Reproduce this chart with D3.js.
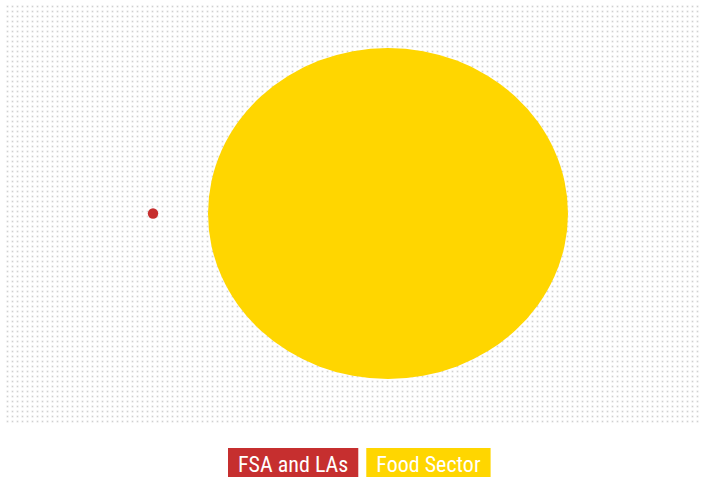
<!DOCTYPE html>
<html>
<head>
<meta charset="utf-8">
<script src="https://cdn.jsdelivr.net/npm/d3@7"></script>
<style>
  body { margin: 0; background: #fff; }
  text { font-family: "Liberation Sans Narrow", "Roboto Condensed", "Liberation Sans", sans-serif; }
</style>
</head>
<body>
<div id="wrapper"></div>
<script>
// data
const categories = ["FSA and LAs", "Food Sector"]
const values = [0.1, 120]
const colors = ["#c62f2f", "#ffd600"]

function drawBubbles() {
  const width = 703
  const height = 477
  const plot = { left: 5, top: 4, right: 701, bottom: 424 }

  const svg = d3.select("#wrapper")
    .append("svg")
      .attr("width", width)
      .attr("height", height)

  // dotted background
  const defs = svg.append("defs")
  const pat = defs.append("pattern")
      .attr("id", "dots")
      .attr("width", 5)
      .attr("height", 5)
      .attr("patternUnits", "userSpaceOnUse")
      .attr("x", plot.left)
      .attr("y", plot.top)
  pat.append("rect")
      .attr("x", 1.5).attr("y", 1.5)
      .attr("width", 2).attr("height", 2)
      .attr("fill", "#e4e4e4")
  pat.append("rect")
      .attr("x", 2).attr("y", 2)
      .attr("width", 1).attr("height", 1)
      .attr("fill", "#d0d0d0")

  svg.append("rect")
      .attr("x", plot.left)
      .attr("y", plot.top)
      .attr("width", plot.right - plot.left)
      .attr("height", plot.bottom - plot.top)
      .attr("fill", "url(#dots)")

  // scales
  const xScale = d3.scalePoint()
    .domain(categories)
    .range([153, 388])

  const yCenter = 213.5

  const rScale = d3.scaleSqrt()
    .domain([0, d3.max(values)])
    .range([0, 180])

  const aspect = 165.5 / 180

  svg.append("g")
    .selectAll("ellipse")
    .data(categories)
    .join("ellipse")
      .attr("cx", d => xScale(d))
      .attr("cy", yCenter)
      .attr("rx", (d, i) => Math.max(5, rScale(values[i])))
      .attr("ry", (d, i) => rScale(values[i]) < 10 ? Math.max(5, rScale(values[i])) : rScale(values[i]) * aspect)
      .attr("fill", (d, i) => colors[i])

  // legend
  const legend = svg.append("g")
  let x = 228
  categories.forEach((c, i) => {
    const g = legend.append("g")
    const t = g.append("text")
        .attr("y", 472)
        .attr("fill", "#fff")
        .attr("font-size", 22)
        .text(c)
    const w = t.node().getComputedTextLength()
    const boxW = w + 20
    g.insert("rect", "text")
        .attr("x", x)
        .attr("y", 448)
        .attr("width", boxW)
        .attr("height", 30)
        .attr("fill", colors[i])
    t.attr("x", x + 10)
    x += boxW + 8
  })
}
drawBubbles()
</script>
</body>
</html>
